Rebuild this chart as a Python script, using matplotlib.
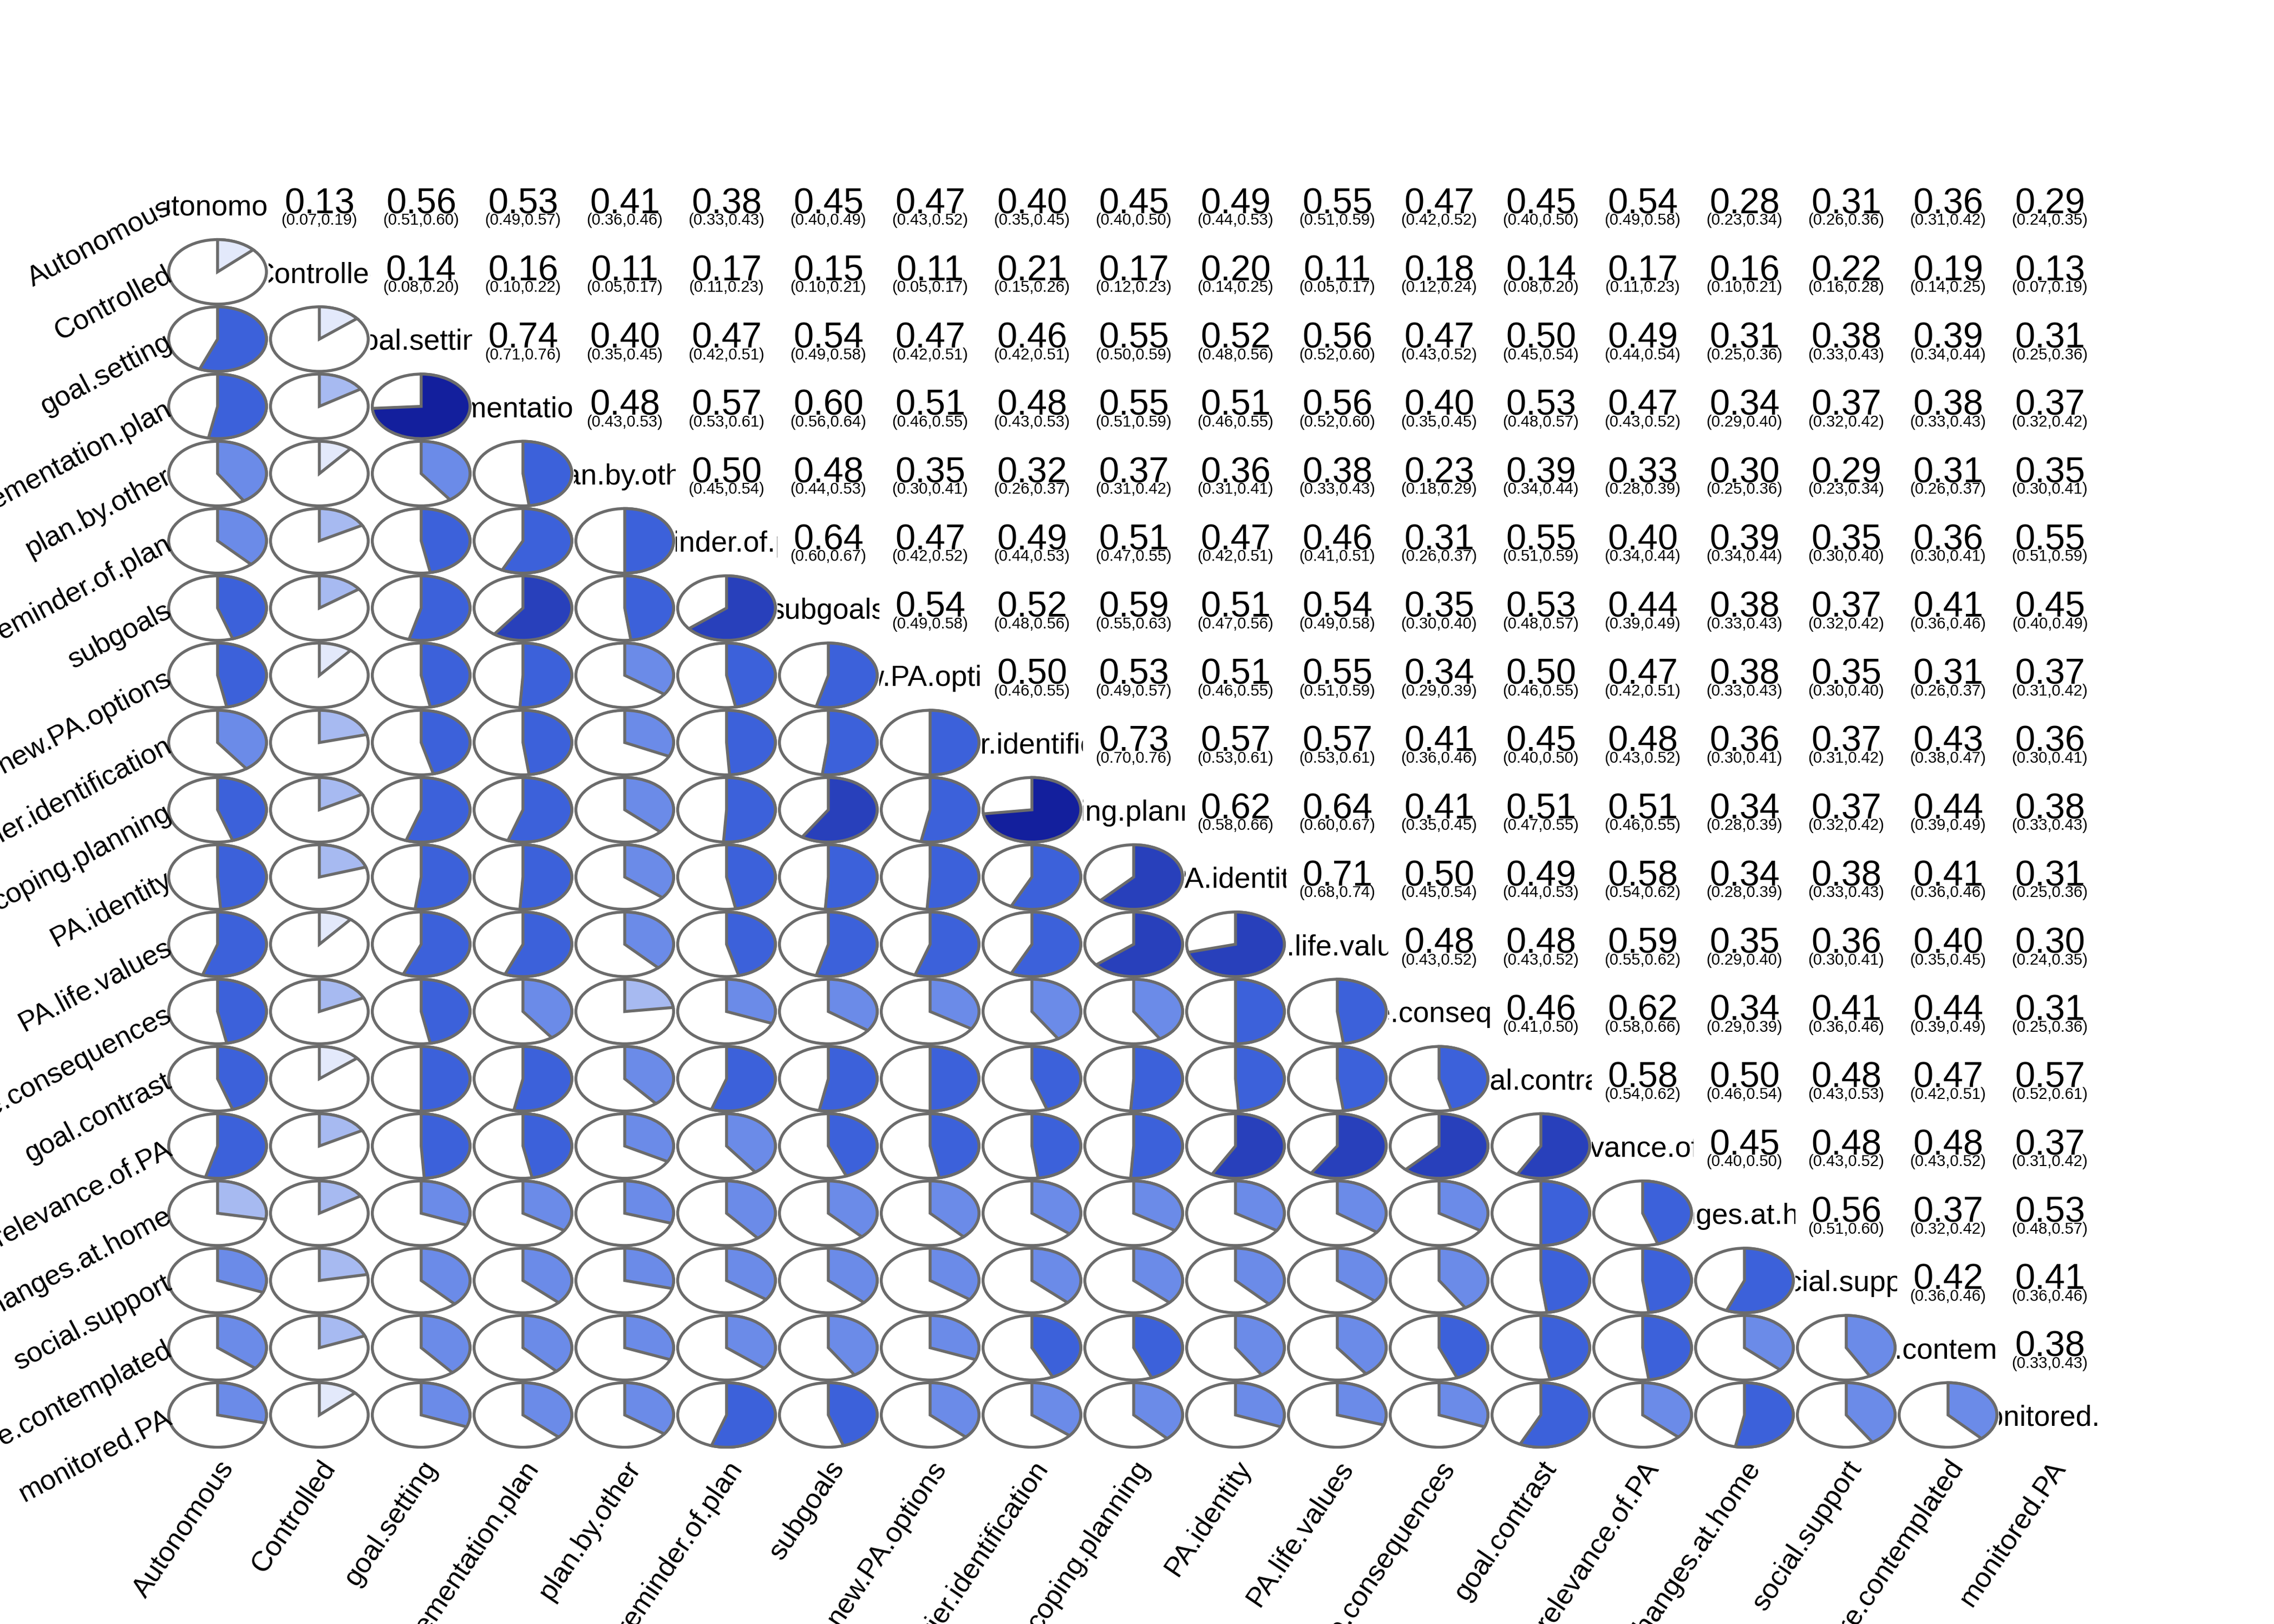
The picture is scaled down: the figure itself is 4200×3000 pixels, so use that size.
import numpy as np
import matplotlib
matplotlib.use("Agg")
import matplotlib.pyplot as plt
from matplotlib.patches import Circle, Wedge, Rectangle
from matplotlib.colors import LinearSegmentedColormap

plt.rcParams['font.family'] = ['Liberation Sans', 'DejaVu Sans']

# variable names (order of rows / columns)
names = ['Autonomous', 'Controlled', 'goal.setting', 'implementation.plan', 'plan.by.other',
         'reminder.of.plan', 'subgoals', 'new.PA.options', 'barrier.identification',
         'coping.planning', 'PA.identity', 'PA.life.values', 'positive.consequences',
         'goal.contrast', 'relevance.of.PA', 'changes.at.home', 'social.support',
         'future.contemplated', 'monitored.PA']

# upper triangle, row by row: correlation, lower and upper 95% CI
corr_r = [
    [0.13, 0.56, 0.53, 0.41, 0.38, 0.45, 0.47, 0.40, 0.45, 0.49, 0.55, 0.47, 0.45, 0.54, 0.28, 0.31, 0.36, 0.29],
    [0.14, 0.16, 0.11, 0.17, 0.15, 0.11, 0.21, 0.17, 0.20, 0.11, 0.18, 0.14, 0.17, 0.16, 0.22, 0.19, 0.13],
    [0.74, 0.40, 0.47, 0.54, 0.47, 0.46, 0.55, 0.52, 0.56, 0.47, 0.50, 0.49, 0.31, 0.38, 0.39, 0.31],
    [0.48, 0.57, 0.60, 0.51, 0.48, 0.55, 0.51, 0.56, 0.40, 0.53, 0.47, 0.34, 0.37, 0.38, 0.37],
    [0.50, 0.48, 0.35, 0.32, 0.37, 0.36, 0.38, 0.23, 0.39, 0.33, 0.30, 0.29, 0.31, 0.35],
    [0.64, 0.47, 0.49, 0.51, 0.47, 0.46, 0.31, 0.55, 0.40, 0.39, 0.35, 0.36, 0.55],
    [0.54, 0.52, 0.59, 0.51, 0.54, 0.35, 0.53, 0.44, 0.38, 0.37, 0.41, 0.45],
    [0.50, 0.53, 0.51, 0.55, 0.34, 0.50, 0.47, 0.38, 0.35, 0.31, 0.37],
    [0.73, 0.57, 0.57, 0.41, 0.45, 0.48, 0.36, 0.37, 0.43, 0.36],
    [0.62, 0.64, 0.41, 0.51, 0.51, 0.34, 0.37, 0.44, 0.38],
    [0.71, 0.50, 0.49, 0.58, 0.34, 0.38, 0.41, 0.31],
    [0.48, 0.48, 0.59, 0.35, 0.36, 0.40, 0.30],
    [0.46, 0.62, 0.34, 0.41, 0.44, 0.31],
    [0.58, 0.50, 0.48, 0.47, 0.57],
    [0.45, 0.48, 0.48, 0.37],
    [0.56, 0.37, 0.53],
    [0.42, 0.41],
    [0.38],
]
corr_lo = [
    [0.07, 0.51, 0.49, 0.36, 0.33, 0.40, 0.43, 0.35, 0.40, 0.44, 0.51, 0.42, 0.40, 0.49, 0.23, 0.26, 0.31, 0.24],
    [0.08, 0.10, 0.05, 0.11, 0.10, 0.05, 0.15, 0.12, 0.14, 0.05, 0.12, 0.08, 0.11, 0.10, 0.16, 0.14, 0.07],
    [0.71, 0.35, 0.42, 0.49, 0.42, 0.42, 0.50, 0.48, 0.52, 0.43, 0.45, 0.44, 0.25, 0.33, 0.34, 0.25],
    [0.43, 0.53, 0.56, 0.46, 0.43, 0.51, 0.46, 0.52, 0.35, 0.48, 0.43, 0.29, 0.32, 0.33, 0.32],
    [0.45, 0.44, 0.30, 0.26, 0.31, 0.31, 0.33, 0.18, 0.34, 0.28, 0.25, 0.23, 0.26, 0.30],
    [0.60, 0.42, 0.44, 0.47, 0.42, 0.41, 0.26, 0.51, 0.34, 0.34, 0.30, 0.30, 0.51],
    [0.49, 0.48, 0.55, 0.47, 0.49, 0.30, 0.48, 0.39, 0.33, 0.32, 0.36, 0.40],
    [0.46, 0.49, 0.46, 0.51, 0.29, 0.46, 0.42, 0.33, 0.30, 0.26, 0.31],
    [0.70, 0.53, 0.53, 0.36, 0.40, 0.43, 0.30, 0.31, 0.38, 0.30],
    [0.58, 0.60, 0.35, 0.47, 0.46, 0.28, 0.32, 0.39, 0.33],
    [0.68, 0.45, 0.44, 0.54, 0.28, 0.33, 0.36, 0.25],
    [0.43, 0.43, 0.55, 0.29, 0.30, 0.35, 0.24],
    [0.41, 0.58, 0.29, 0.36, 0.39, 0.25],
    [0.54, 0.46, 0.43, 0.42, 0.52],
    [0.40, 0.43, 0.43, 0.31],
    [0.51, 0.32, 0.48],
    [0.36, 0.36],
    [0.33],
]
corr_hi = [
    [0.19, 0.60, 0.57, 0.46, 0.43, 0.49, 0.52, 0.45, 0.50, 0.53, 0.59, 0.52, 0.50, 0.58, 0.34, 0.36, 0.42, 0.35],
    [0.20, 0.22, 0.17, 0.23, 0.21, 0.17, 0.26, 0.23, 0.25, 0.17, 0.24, 0.20, 0.23, 0.21, 0.28, 0.25, 0.19],
    [0.76, 0.45, 0.51, 0.58, 0.51, 0.51, 0.59, 0.56, 0.60, 0.52, 0.54, 0.54, 0.36, 0.43, 0.44, 0.36],
    [0.53, 0.61, 0.64, 0.55, 0.53, 0.59, 0.55, 0.60, 0.45, 0.57, 0.52, 0.40, 0.42, 0.43, 0.42],
    [0.54, 0.53, 0.41, 0.37, 0.42, 0.41, 0.43, 0.29, 0.44, 0.39, 0.36, 0.34, 0.37, 0.41],
    [0.67, 0.52, 0.53, 0.55, 0.51, 0.51, 0.37, 0.59, 0.44, 0.44, 0.40, 0.41, 0.59],
    [0.58, 0.56, 0.63, 0.56, 0.58, 0.40, 0.57, 0.49, 0.43, 0.42, 0.46, 0.49],
    [0.55, 0.57, 0.55, 0.59, 0.39, 0.55, 0.51, 0.43, 0.40, 0.37, 0.42],
    [0.76, 0.61, 0.61, 0.46, 0.50, 0.52, 0.41, 0.42, 0.47, 0.41],
    [0.66, 0.67, 0.45, 0.55, 0.55, 0.39, 0.42, 0.49, 0.43],
    [0.74, 0.54, 0.53, 0.62, 0.39, 0.43, 0.46, 0.36],
    [0.52, 0.52, 0.62, 0.40, 0.41, 0.45, 0.35],
    [0.50, 0.66, 0.39, 0.46, 0.49, 0.36],
    [0.62, 0.54, 0.53, 0.51, 0.61],
    [0.50, 0.52, 0.52, 0.42],
    [0.60, 0.42, 0.57],
    [0.46, 0.46],
    [0.43],
]

n = len(names)
R = np.eye(n)
for i, row in enumerate(corr_r):
    for k, v in enumerate(row):
        R[i, i + 1 + k] = v
        R[i + 1 + k, i] = v

# corrgram-like palette, 14 bins over [-1, 1]
cmap = LinearSegmentedColormap.from_list('corr', ['red', 'salmon', 'white', 'royalblue', 'navy'])
ncol = 14
pal = cmap(np.linspace(0, 1, ncol))
edges = np.linspace(-1, 1, ncol + 1)

def pie_color(r):
    idx = np.clip(np.searchsorted(edges, r, side='left') - 1, 0, ncol - 1)
    return pal[idx]

edge_col = '#6b6b6b'

fig = plt.figure(figsize=(14, 10), dpi=300)
ax = fig.add_axes([0.0733, 0.108, 0.8505, 0.7867])
ax.set_xlim(-0.5, n - 0.5)
ax.set_ylim(-0.5, n - 0.5)
ax.axis('off')

for i in range(n):
    y = n - 1 - i
    for j in range(n):
        x = j
        if i > j:
            r = R[i, j]
            ax.add_patch(Circle((x, y), 0.48, facecolor='white', edgecolor=edge_col, lw=1.3))
            ax.add_patch(Wedge((x, y), 0.48, 90 - 360 * r, 90,
                               facecolor=pie_color(r), edgecolor=edge_col, lw=1.3))
        elif i == j:
            # diagonal name, clipped to its own cell
            t = ax.text(x, y - 0.16, names[i], ha='center', va='baseline',
                        fontsize=12.8, clip_on=True)
            t.set_clip_path(Rectangle((x - 0.5, y - 0.5), 1, 1, transform=ax.transData))
        else:
            k = j - i - 1
            ax.text(x, y - 0.13, f"{corr_r[i][k]:.2f}", ha='center', va='baseline', fontsize=16)
            ax.text(x, y - 0.30, f"({corr_lo[i][k]:.2f},{corr_hi[i][k]:.2f})",
                    ha='center', va='baseline', fontsize=7)

# outer labels
for i, nm in enumerate(names):
    ax.text(-0.47, n - 1 - i - 0.02, nm, rotation=28, ha='right', va='center',
            rotation_mode='anchor', fontsize=12.5)
    ax.text(i + 0.1, -0.72, nm, rotation=56, ha='right', va='center',
            rotation_mode='anchor', fontsize=12.5)

fig.savefig('out.png', dpi=300, facecolor='white')
